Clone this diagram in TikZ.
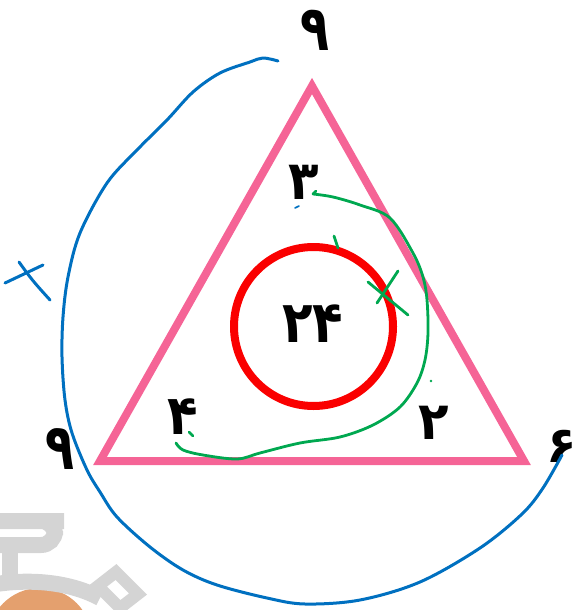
\documentclass[tikz,border=0pt]{standalone}
\usepackage{fontspec}
\usepackage{graphicx}
\newfontfamily\fa[Script=Arabic]{DejaVu Sans}
\definecolor{tripink}{RGB}{245,100,150}
\definecolor{ringred}{RGB}{250,0,0}
\definecolor{penblue}{RGB}{0,112,192}
\definecolor{pengreen}{RGB}{0,168,80}
\definecolor{wmgray}{RGB}{212,212,212}
\definecolor{wmorange}{RGB}{228,160,110}
\newcommand{\dg}[3]{\scalebox{#1}[#2]{\fa\bfseries #3}}
\tikzset{
  digit/.style={font=\fontsize{50}{50}\selectfont, inner sep=0pt, anchor=center, text=black},
  tri/.style={draw=tripink, line width=8pt, line join=miter},
  ring/.style={draw=ringred, line width=8pt},
  bluepen/.style={draw=penblue, line width=3pt, line cap=round, line join=round},
  greenpen/.style={draw=pengreen, line width=2.8pt, line cap=round, line join=round},
  wm/.style={draw=wmgray, line width=16pt}
}
\begin{document}
\begin{tikzpicture}[x=1pt,y=-1pt]
\useasboundingbox (0,0) rectangle (577,610);
% watermark (faint)
\begin{scope}
\clip (0,0) rectangle (577,610);
\fill[wmorange] (40,640) circle (52);
\draw[wm, rounded corners=14] (-10,521) -- (50,521) -- (55,521) -- (55,545) -- (-10,545);
\draw[wm] (10,553) -- (10,578);
\draw[wm] (-10,585) .. controls (30,578) and (70,582) .. (100,598);
\draw[wmgray, line width=12pt] (98,586) -- (116,572) -- (138,594) -- (120,608) -- cycle;
\end{scope}
% triangle and circle
\coordinate (A) at (312,86);
\coordinate (B) at (100,461);
\coordinate (C) at (524,461);
\draw[tri] (A) -- (B) -- (C) -- cycle;
\node[draw=none, circle, minimum size=1pt] (O) at (313.5,326.5) {};
\draw[ring] (O) circle (79.5);
% numbers
\node[digit] (n24) at (313,324) {\dg{1}{1.16}{۲۴}};
\node[digit] (n3) at (304,182) {\dg{1}{1.08}{۳}};
\node[digit] (n4) at (183,417) {\dg{1}{1.1}{۴}};
\node[digit] (n2) at (434,423) {\dg{1}{1.05}{۲}};
\node[digit] (n9t) at (315,30) {\dg{0.95}{1.26}{۹}};
\node[digit] (n9l) at (60,449) {\dg{0.95}{1.28}{۹}};
\node[digit] (n6) at (562,446) {\dg{1}{1}{۶}};
% blue curve
\draw[bluepen] plot[smooth, tension=0.55] coordinates {
 (278,61) (263,58) (250,62) (220,73) (193,92) (167,120) (137,150) (107,183)
 (80,233) (68,277) (63,317) (62,357) (65,400) (72,433) (87,470) (100,492)
 (117,517) (150,547) (183,570) (217,585) (267,598) (305,604) (360,600)
 (420,582) (480,548) (522,514) (543,488) (562,455)};
% blue cross
\draw[bluepen] (5,283) -- (43,265);
\draw[bluepen] (19,262) .. controls (32,280) .. (50,300);
% blue dot
\draw[bluepen, line width=1.6pt] (295,208) -- (299,206);
% green curve
\draw[greenpen] plot[smooth, tension=0.55] coordinates {
 (313,194) (333,197) (360,205) (390,218) (413,253) (423,277) (427,300)
 (428,333) (425,360) (417,383) (400,407) (373,425) (340,437) (300,443)
 (260,453) (237,459) (203,455) (183,450) (176,443)};
\draw[greenpen] (313,194) -- (316,191);
% green cross and ticks
\draw[greenpen] (368,282) -- (408,315);
\draw[greenpen] (398,271) -- (377,303);
\draw[greenpen] (334,236) -- (338,248);
\draw[greenpen] (189,432) -- (193,436);
\fill[pengreen] (431,381) circle (1.3);
\end{tikzpicture}
\end{document}
